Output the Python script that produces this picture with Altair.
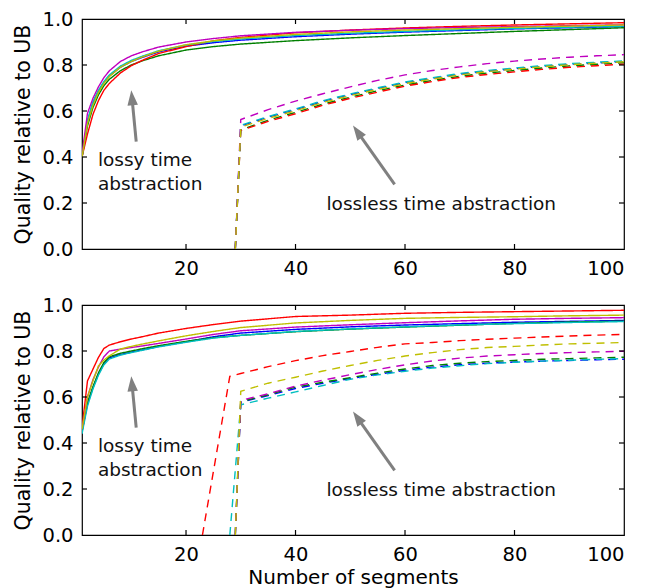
import altair as alt
import pandas as pd

# ---------------- data ----------------
SERIES = ["b", "g", "r", "c", "m", "y"]
COLORS = ["#0000ff", "#008000", "#ff0000", "#00bfbf", "#bf00bf", "#bfbf00"]

X_SOLID = [1, 2, 3, 4, 5, 6, 8, 10, 12, 15, 20, 25, 30, 40, 50, 60, 70, 80, 90, 100]

# top panel, lossy time abstraction (solid)
TOP_SOLID_B = [0.40, 0.555, 0.635, 0.685, 0.724, 0.752, 0.79, 0.815, 0.833, 0.857, 0.882, 0.897, 0.908, 0.923, 0.934, 0.943, 0.95, 0.957, 0.962, 0.967]
TOP_SOLID_G = [0.40, 0.535, 0.615, 0.67, 0.71, 0.738, 0.775, 0.80, 0.818, 0.84, 0.865, 0.88, 0.891, 0.906, 0.918, 0.928, 0.937, 0.946, 0.954, 0.962]
TOP_SOLID_R = [0.40, 0.50, 0.585, 0.645, 0.69, 0.72, 0.765, 0.797, 0.82, 0.85, 0.88, 0.905, 0.92, 0.94, 0.952, 0.961, 0.968, 0.974, 0.979, 0.984]
TOP_SOLID_C = [0.40, 0.56, 0.64, 0.69, 0.728, 0.757, 0.795, 0.82, 0.838, 0.862, 0.887, 0.902, 0.913, 0.928, 0.938, 0.946, 0.953, 0.959, 0.964, 0.969]
TOP_SOLID_M = [0.41, 0.59, 0.655, 0.705, 0.745, 0.775, 0.815, 0.84, 0.857, 0.878, 0.90, 0.915, 0.927, 0.942, 0.951, 0.958, 0.963, 0.967, 0.971, 0.975]
TOP_SOLID_Y = [0.40, 0.545, 0.625, 0.68, 0.72, 0.75, 0.79, 0.815, 0.835, 0.86, 0.888, 0.905, 0.917, 0.933, 0.944, 0.952, 0.958, 0.964, 0.969, 0.974]

# top panel, lossless time abstraction (dashed)
X_TOP_DASH = [29, 30, 35, 40, 45, 50, 55, 60, 65, 70, 75, 80, 85, 90, 95, 100]
TOP_DASH_B = [0, 0.535, 0.573, 0.606, 0.642, 0.671, 0.698, 0.723, 0.742, 0.76, 0.773, 0.784, 0.794, 0.803, 0.809, 0.815]
TOP_DASH_G = [0, 0.518, 0.56, 0.594, 0.63, 0.66, 0.688, 0.713, 0.733, 0.751, 0.765, 0.776, 0.787, 0.796, 0.803, 0.81]
TOP_DASH_R = [0, 0.515, 0.555, 0.588, 0.625, 0.655, 0.682, 0.708, 0.728, 0.746, 0.759, 0.77, 0.781, 0.79, 0.797, 0.804]
TOP_DASH_C = [0, 0.538, 0.576, 0.609, 0.645, 0.674, 0.701, 0.726, 0.745, 0.763, 0.776, 0.787, 0.797, 0.806, 0.812, 0.818]
TOP_DASH_M = [0, 0.563, 0.606, 0.643, 0.675, 0.705, 0.733, 0.757, 0.776, 0.792, 0.806, 0.817, 0.826, 0.834, 0.84, 0.845]
TOP_DASH_Y = [0, 0.53, 0.568, 0.601, 0.637, 0.667, 0.694, 0.719, 0.739, 0.757, 0.771, 0.782, 0.792, 0.801, 0.808, 0.814]

# bottom panel, lossy (solid)
BOT_SOLID_B = [0.45, 0.57, 0.64, 0.70, 0.745, 0.77, 0.785, 0.795, 0.805, 0.82, 0.84, 0.862, 0.878, 0.894, 0.905, 0.913, 0.919, 0.925, 0.929, 0.933]
BOT_SOLID_G = [0.45, 0.575, 0.645, 0.705, 0.75, 0.775, 0.79, 0.80, 0.81, 0.823, 0.842, 0.858, 0.868, 0.884, 0.895, 0.904, 0.912, 0.92, 0.926, 0.93]
BOT_SOLID_R = [0.465, 0.67, 0.721, 0.772, 0.811, 0.826, 0.84, 0.852, 0.862, 0.878, 0.898, 0.915, 0.93, 0.95, 0.956, 0.964, 0.968, 0.971, 0.974, 0.977]
BOT_SOLID_C = [0.44, 0.56, 0.635, 0.695, 0.74, 0.765, 0.782, 0.793, 0.803, 0.818, 0.838, 0.856, 0.868, 0.885, 0.896, 0.905, 0.913, 0.919, 0.924, 0.928]
BOT_SOLID_M = [0.46, 0.60, 0.675, 0.73, 0.775, 0.80, 0.808, 0.815, 0.822, 0.833, 0.852, 0.872, 0.888, 0.904, 0.914, 0.923, 0.931, 0.938, 0.942, 0.945]
BOT_SOLID_Y = [0.46, 0.60, 0.67, 0.735, 0.76, 0.779, 0.808, 0.82, 0.83, 0.844, 0.866, 0.885, 0.902, 0.922, 0.933, 0.942, 0.946, 0.949, 0.953, 0.956]

# bottom panel, lossless (dashed)
X_BOT_DASH_R = [23, 28, 30, 35, 40, 45, 50, 55, 60, 65, 70, 75, 80, 85, 90, 95, 100]
BOT_DASH_R = [0, 0.69, 0.702, 0.732, 0.758, 0.78, 0.798, 0.816, 0.831, 0.837, 0.845, 0.851, 0.856, 0.861, 0.865, 0.869, 0.872]
X_BOT_DASH_C = [28, 30, 35, 40, 45, 50, 55, 60, 65, 70, 75, 80, 85, 90, 95, 100]
BOT_DASH_C = [0, 0.566, 0.595, 0.622, 0.65, 0.677, 0.696, 0.712, 0.726, 0.736, 0.745, 0.751, 0.756, 0.76, 0.764, 0.767]
X_BOT_DASH = [29, 30, 35, 40, 45, 50, 55, 60, 65, 70, 75, 80, 85, 90, 95, 100]
BOT_DASH_B = [0, 0.578, 0.606, 0.637, 0.66, 0.68, 0.699, 0.716, 0.73, 0.74, 0.747, 0.752, 0.756, 0.759, 0.762, 0.764]
BOT_DASH_G = [0, 0.58, 0.61, 0.643, 0.664, 0.684, 0.704, 0.722, 0.737, 0.747, 0.754, 0.759, 0.764, 0.767, 0.770, 0.773]
BOT_DASH_M = [0, 0.585, 0.614, 0.647, 0.673, 0.697, 0.72, 0.74, 0.757, 0.769, 0.778, 0.784, 0.789, 0.793, 0.796, 0.799]
BOT_DASH_Y = [0, 0.625, 0.66, 0.686, 0.713, 0.737, 0.759, 0.778, 0.793, 0.806, 0.815, 0.82, 0.826, 0.831, 0.834, 0.837]

X_TICKS = [20, 40, 60, 80, 100]
Y_TICKS = [0.0, 0.2, 0.4, 0.6, 0.8, 1.0]

LABELS = ["lossy time\nabstraction", "lossless time abstraction"]
LABEL_X = [3.9, 45.65]
LABEL_Y = [0.36, 0.17]
ARROW_TAIL_X = [10.9, 58.1]
ARROW_TAIL_Y = [0.467, 0.281]
ARROW_TIP_X = [10.0, 50.5]
ARROW_TIP_Y = [0.69, 0.537]

# ---------------- build tables ----------------
def rows(xs, ys, series, kind):
    return [{"x": a, "y": b, "series": series, "kind": kind} for a, b in zip(xs, ys)]

top_rows = []
for s, ys in zip(SERIES, [TOP_SOLID_B, TOP_SOLID_G, TOP_SOLID_R, TOP_SOLID_C, TOP_SOLID_M, TOP_SOLID_Y]):
    top_rows += rows(X_SOLID, ys, s, "lossy")
for s, ys in zip(SERIES, [TOP_DASH_B, TOP_DASH_G, TOP_DASH_R, TOP_DASH_C, TOP_DASH_M, TOP_DASH_Y]):
    top_rows += rows(X_TOP_DASH, ys, s, "lossless")
top_df = pd.DataFrame(top_rows)

bot_rows = []
for s, ys in zip(SERIES, [BOT_SOLID_B, BOT_SOLID_G, BOT_SOLID_R, BOT_SOLID_C, BOT_SOLID_M, BOT_SOLID_Y]):
    bot_rows += rows(X_SOLID, ys, s, "lossy")
bot_rows += rows(X_BOT_DASH, BOT_DASH_B, "b", "lossless")
bot_rows += rows(X_BOT_DASH, BOT_DASH_G, "g", "lossless")
bot_rows += rows(X_BOT_DASH_R, BOT_DASH_R, "r", "lossless")
bot_rows += rows(X_BOT_DASH_C, BOT_DASH_C, "c", "lossless")
bot_rows += rows(X_BOT_DASH, BOT_DASH_M, "m", "lossless")
bot_rows += rows(X_BOT_DASH, BOT_DASH_Y, "y", "lossless")
bot_df = pd.DataFrame(bot_rows)

HEAD_FRAC = 0.15
arrows_df = pd.DataFrame({
    "x": ARROW_TAIL_X,
    "y": ARROW_TAIL_Y,
    "x2": [t + (a - t) * HEAD_FRAC for a, t in zip(ARROW_TAIL_X, ARROW_TIP_X)],
    "y2": [t + (a - t) * HEAD_FRAC for a, t in zip(ARROW_TAIL_Y, ARROW_TIP_Y)],
})
labels_df = pd.DataFrame({"x": LABEL_X, "y": LABEL_Y, "text": LABELS})

W, H = 542, 230
FONT = "DejaVu Sans"
xscale = alt.Scale(domain=[1, 100], nice=False, zero=False)
yscale = alt.Scale(domain=[0, 1], nice=False, zero=False)
TICK_LEN = 5


def panel(df, x_title):
    if x_title is None:
        xaxis = alt.Axis(values=X_TICKS, format="d", ticks=False, domain=False, grid=False,
                         labelFontSize=19.5, labelPadding=10, labelColor="black", labelFont=FONT,
                         title=None)
    else:
        xaxis = alt.Axis(values=X_TICKS, format="d", ticks=False, domain=False, grid=False,
                         labelFontSize=19.5, labelPadding=10, labelColor="black", labelFont=FONT,
                         title=x_title, titleFontSize=20, titleFontWeight="normal", titleFont=FONT,
                         titleColor="black", titlePadding=4)
    yaxis = alt.Axis(values=Y_TICKS, format=".1f", ticks=False, domain=False, grid=False,
                     labelFontSize=19.5, labelPadding=9, labelColor="black", labelFont=FONT,
                     title="Quality relative to UB", titleFontSize=20.5, titleFontWeight="normal",
                     titleFont=FONT, titleColor="black", titlePadding=8)
    lines = alt.Chart(df).mark_line(strokeWidth=1.4, clip=True).encode(
        x=alt.X("x:Q", scale=xscale, axis=xaxis),
        y=alt.Y("y:Q", scale=yscale, axis=yaxis),
        color=alt.Color("series:N", scale=alt.Scale(domain=SERIES, range=COLORS), legend=None),
        strokeDash=alt.StrokeDash("kind:N", scale=alt.Scale(domain=["lossy", "lossless"], range=[[1, 0], [8, 6]]), legend=None),
    )
    xt = pd.DataFrame({"x": X_TICKS[:-1]})
    yt = pd.DataFrame({"y": Y_TICKS[1:-1]})
    tick_top = alt.Chart(xt).mark_rule(color="black", strokeWidth=1.2).encode(
        x=alt.X("x:Q", scale=xscale), y=alt.value(0), y2=alt.value(TICK_LEN))
    tick_bot = alt.Chart(xt).mark_rule(color="black", strokeWidth=1.2).encode(
        x=alt.X("x:Q", scale=xscale), y=alt.value(H), y2=alt.value(H - TICK_LEN))
    tick_left = alt.Chart(yt).mark_rule(color="black", strokeWidth=1.2).encode(
        y=alt.Y("y:Q", scale=yscale), x=alt.value(0), x2=alt.value(TICK_LEN))
    tick_right = alt.Chart(yt).mark_rule(color="black", strokeWidth=1.2).encode(
        y=alt.Y("y:Q", scale=yscale), x=alt.value(W), x2=alt.value(W - TICK_LEN))

    shafts = alt.Chart(arrows_df).mark_rule(color="#808080", strokeWidth=3).encode(
        x=alt.X("x:Q", scale=xscale), y=alt.Y("y:Q", scale=yscale), x2="x2:Q", y2="y2:Q")
    head_path = "M0,0L0.7,2L-0.7,2Z"
    tips_df = pd.DataFrame({"x": ARROW_TIP_X, "y": ARROW_TIP_Y})
    head1 = alt.Chart(tips_df.iloc[[0]]).mark_point(shape=head_path, size=225, filled=True,
                                                     color="#808080", opacity=1, angle=354.5, strokeWidth=0).encode(
        x=alt.X("x:Q", scale=xscale), y=alt.Y("y:Q", scale=yscale))
    head2 = alt.Chart(tips_df.iloc[[1]]).mark_point(shape=head_path, size=225, filled=True,
                                                     color="#808080", opacity=1, angle=324.8, strokeWidth=0).encode(
        x=alt.X("x:Q", scale=xscale), y=alt.Y("y:Q", scale=yscale))
    texts = alt.Chart(labels_df).mark_text(align="left", baseline="alphabetic", fontSize=18.5,
                                           font=FONT, color="#111", lineBreak="\n", lineHeight=24).encode(
        x=alt.X("x:Q", scale=xscale), y=alt.Y("y:Q", scale=yscale), text="text:N")
    return alt.layer(lines, tick_top, tick_bot, tick_left, tick_right, shafts, head1, head2, texts).properties(
        width=W, height=H)


top = panel(top_df, None)
bottom = panel(bot_df, "Number of segments")

chart = alt.vconcat(top, bottom, spacing=15).properties(
    padding={"left": 5, "top": 0, "right": 0, "bottom": 0}
).configure_view(stroke="black", strokeWidth=1.2)

chart.save("out.html", embed_options={"renderer": "svg", "actions": False})
